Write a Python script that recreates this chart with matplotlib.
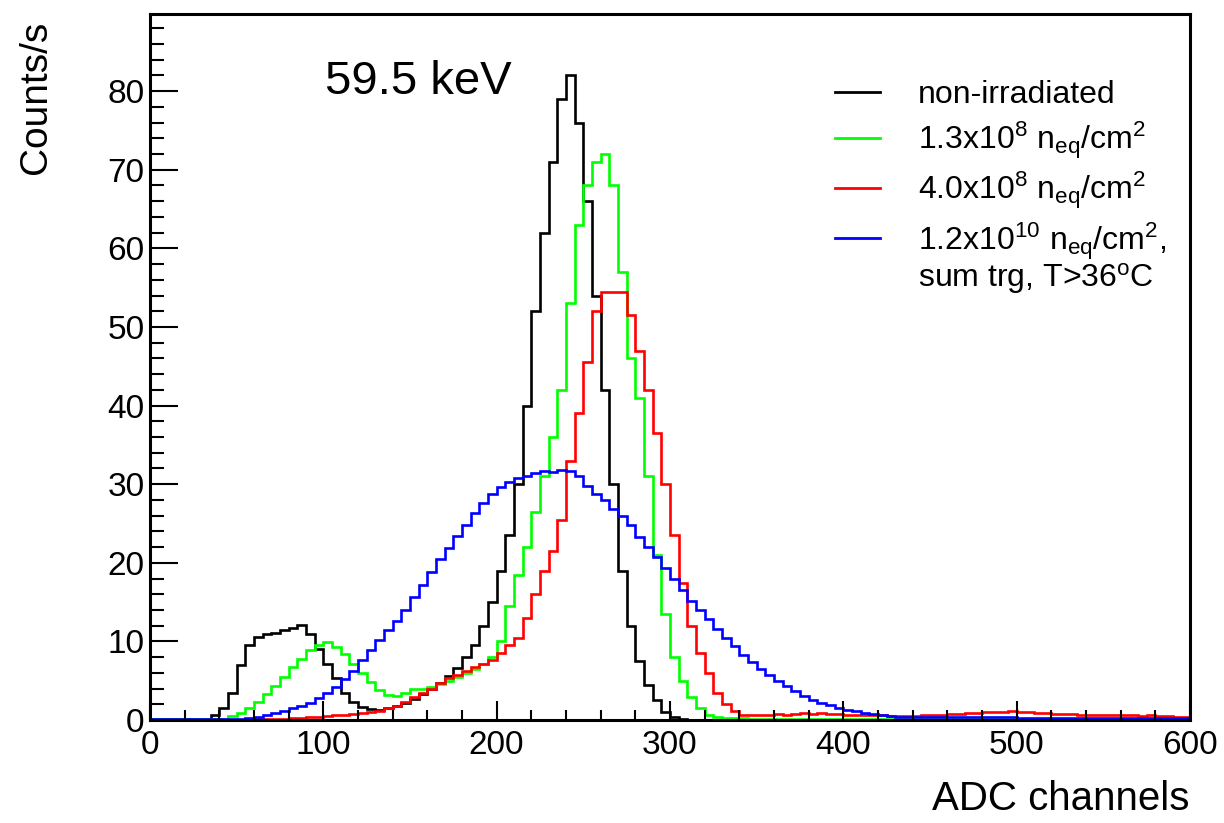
import numpy as np
import matplotlib
matplotlib.use('Agg')
import matplotlib.pyplot as plt
from matplotlib.ticker import MultipleLocator
from matplotlib.lines import Line2D

plt.rcParams['font.family'] = ['Liberation Sans', 'DejaVu Sans']
plt.rcParams['mathtext.fontset'] = 'custom'
plt.rcParams['mathtext.rm'] = 'Liberation Sans'
plt.rcParams['mathtext.it'] = 'Liberation Sans'

# 5-channel bins from 0 to 600 ADC
bin_edges = np.arange(0, 605, 5)

counts_nonirr = [
    0.1, 0.1, 0.1, 0.1, 0.1, 0.15, 0.2, 0.6, 1.5, 3.5,
    7.0, 9.5, 10.6, 11.0, 11.1, 11.4, 11.7, 12.1, 11.0, 9.0,
    7.2, 5.3, 3.5, 2.3, 1.7, 1.4, 1.3, 1.5, 1.8, 2.2,
    2.7, 3.3, 3.9, 4.7, 5.6, 6.6, 8.0, 9.5, 12.0, 15.0,
    19.0, 23.5, 30.0, 40.0, 52.0, 62.0, 71.0, 79.0, 82.0, 76.0,
    66.0, 54.0, 42.0, 30.0, 19.0, 12.0, 7.5, 4.5, 2.5, 1.0,
    0.4, 0.15, 0.05, 0.0, 0.0, 0.0, 0.0, 0.0, 0.0, 0.0,
    0.0, 0.0, 0.0, 0.0, 0.0, 0.0, 0.0, 0.0, 0.0, 0.0,
    0.0, 0.0, 0.0, 0.0, 0.0, 0.0, 0.0, 0.0, 0.0, 0.0,
    0.0, 0.0, 0.0, 0.0, 0.0, 0.0, 0.0, 0.0, 0.0, 0.0,
    0.0, 0.0, 0.0, 0.0, 0.0, 0.0, 0.0, 0.0, 0.0, 0.0,
    0.0, 0.0, 0.0, 0.0, 0.0, 0.0, 0.0, 0.0, 0.0, 0.0,
]

counts_13e8 = [
    0.1, 0.1, 0.1, 0.1, 0.1, 0.1, 0.1, 0.1, 0.1, 0.5,
    0.9, 1.5, 2.3, 3.3, 4.3, 5.5, 6.7, 7.8, 8.9, 9.6,
    9.9, 9.3, 8.4, 7.2, 6.0, 4.8, 3.8, 3.2, 3.1, 3.5,
    3.9, 4.0, 4.2, 4.6, 5.0, 5.5, 6.0, 6.5, 7.2, 8.0,
    10.0, 14.5, 18.5, 22.0, 26.5, 31.0, 36.0, 42.0, 53.0, 63.0,
    68.0, 71.0, 72.0, 68.0, 57.0, 46.0, 41.0, 31.0, 21.0, 13.5,
    8.0, 5.0, 3.0, 1.5, 0.7, 0.35, 0.25, 0.25, 0.25, 0.2,
    0.2, 0.2, 0.2, 0.2, 0.2, 0.2, 0.2, 0.2, 0.2, 0.2,
    0.15, 0.15, 0.15, 0.15, 0.15, 0.15, 0.15, 0.15, 0.15, 0.15,
    0.1, 0.1, 0.1, 0.1, 0.1, 0.1, 0.1, 0.1, 0.1, 0.1,
    0.1, 0.1, 0.1, 0.1, 0.1, 0.1, 0.1, 0.1, 0.1, 0.1,
    0.1, 0.1, 0.1, 0.1, 0.1, 0.1, 0.1, 0.1, 0.1, 0.1,
]

counts_40e8 = [
    0.05, 0.05, 0.05, 0.05, 0.05, 0.05, 0.05, 0.05, 0.05, 0.05,
    0.05, 0.05, 0.1, 0.15, 0.2, 0.2, 0.25, 0.3, 0.35, 0.4,
    0.5, 0.6, 0.7, 0.8, 0.9, 1.0, 1.2, 1.5, 1.8, 2.3,
    2.9, 3.4, 4.0, 4.7, 5.3, 5.8, 6.3, 6.8, 7.2, 7.6,
    8.5, 9.5, 10.5, 13.0, 16.0, 19.0, 21.5, 25.5, 33.0, 39.0,
    45.5, 52.0, 54.5, 54.4, 54.5, 51.5, 47.0, 42.0, 36.5, 30.0,
    23.5, 17.5, 12.0, 8.5, 6.0, 3.5, 2.0, 1.2, 0.7, 0.6,
    0.7, 0.7, 0.8, 0.7, 0.8, 0.9, 0.8, 0.9, 0.8, 0.8,
    0.7, 0.7, 0.6, 0.6, 0.6, 0.5, 0.5, 0.5, 0.5, 0.6,
    0.6, 0.7, 0.8, 0.8, 0.9, 0.9, 1.0, 1.0, 1.0, 1.1,
    1.0, 1.0, 0.9, 0.9, 0.8, 0.8, 0.8, 0.7, 0.7, 0.7,
    0.7, 0.6, 0.6, 0.6, 0.5, 0.6, 0.5, 0.5, 0.4, 0.4,
]

counts_12e10 = [
    0.1, 0.1, 0.1, 0.1, 0.1, 0.1, 0.1, 0.1, 0.1, 0.1,
    0.1, 0.25, 0.4, 0.6, 0.9, 1.2, 1.5, 1.8, 2.2, 2.8,
    3.4, 4.2, 5.2, 6.3, 7.6, 8.9, 10.2, 11.4, 12.6, 14.0,
    15.6, 17.2, 18.9, 20.5, 21.9, 23.4, 24.8, 26.3, 27.6, 28.8,
    29.7, 30.3, 30.8, 31.1, 31.4, 31.7, 31.5, 31.8, 31.7, 31.0,
    29.8, 28.8, 28.0, 26.8, 25.9, 24.8, 23.3, 22.0, 20.8, 19.3,
    18.0, 16.6, 15.2, 14.0, 12.8, 11.6, 10.4, 9.4, 8.3, 7.4,
    6.5, 5.7, 5.0, 4.3, 3.7, 3.1, 2.6, 2.2, 1.9, 1.6,
    1.3, 1.1, 0.9, 0.75, 0.6, 0.5, 0.45, 0.4, 0.35, 0.35,
    0.35, 0.35, 0.35, 0.35, 0.35, 0.35, 0.35, 0.35, 0.35, 0.35,
    0.3, 0.3, 0.3, 0.3, 0.3, 0.3, 0.3, 0.3, 0.3, 0.3,
    0.25, 0.25, 0.25, 0.25, 0.25, 0.25, 0.25, 0.25, 0.25, 0.25,
]

series = [
    (counts_nonirr, '#000000', 'non-irradiated'),
    (counts_13e8, '#00ff00', r'1.3x10$^{8}$ n$_{\mathregular{eq}}$/cm$^{2}$'),
    (counts_40e8, '#ff0000', r'4.0x10$^{8}$ n$_{\mathregular{eq}}$/cm$^{2}$'),
    (counts_12e10, '#0000ff', r'1.2x10$^{10}$ n$_{\mathregular{eq}}$/cm$^{2}$,'),
]

fig = plt.figure(figsize=(12.24, 8.23), dpi=100)
ax = fig.add_axes([0.1225, 0.125, 0.8497, 0.858])

for vals, col, lab in series:
    ax.stairs(vals, bin_edges, color=col, lw=1.9, label=lab)

ax.set_xlim(0, 600)
ax.set_ylim(0, 89.8)

ax.xaxis.set_major_locator(MultipleLocator(100))
ax.xaxis.set_minor_locator(MultipleLocator(20))
ax.yaxis.set_major_locator(MultipleLocator(10))
ax.yaxis.set_minor_locator(MultipleLocator(2))
ax.tick_params(axis='both', which='both', direction='in', width=1.5,
               top=False, right=False)
ax.tick_params(axis='x', which='major', length=14, labelsize=24, pad=7)
ax.tick_params(axis='x', which='minor', length=7)
ax.tick_params(axis='y', which='major', length=20, labelsize=24, pad=4)
ax.tick_params(axis='y', which='minor', length=10)
for sp in ax.spines.values():
    sp.set_linewidth(2.2)

ax.set_xlabel('ADC channels', fontsize=29, loc='right', labelpad=14)
ax.set_ylabel('Counts/s', fontsize=28, loc='top', labelpad=38)
ax.yaxis.label.set_y(0.99)

ax.text(0.168, 0.904, '59.5 keV', transform=ax.transAxes, fontsize=34,
        ha='left', va='center')

leg_handles = [Line2D([], [], color=c, lw=2.0) for _, c, _ in series]
leg = ax.legend(leg_handles, [s[2] for s in series], loc='upper left',
                bbox_to_anchor=(0.6465, 0.924), frameon=False, fontsize=23,
                handlelength=1.4, handletextpad=1.2, labelspacing=0.28,
                borderaxespad=0, borderpad=0.4)
ax.text(0.7385, 0.626, r'sum trg, T>36$^{\mathregular{o}}$C', transform=ax.transAxes,
        fontsize=23, ha='left', va='center')

fig.savefig('out.png', dpi=100, facecolor='white')
